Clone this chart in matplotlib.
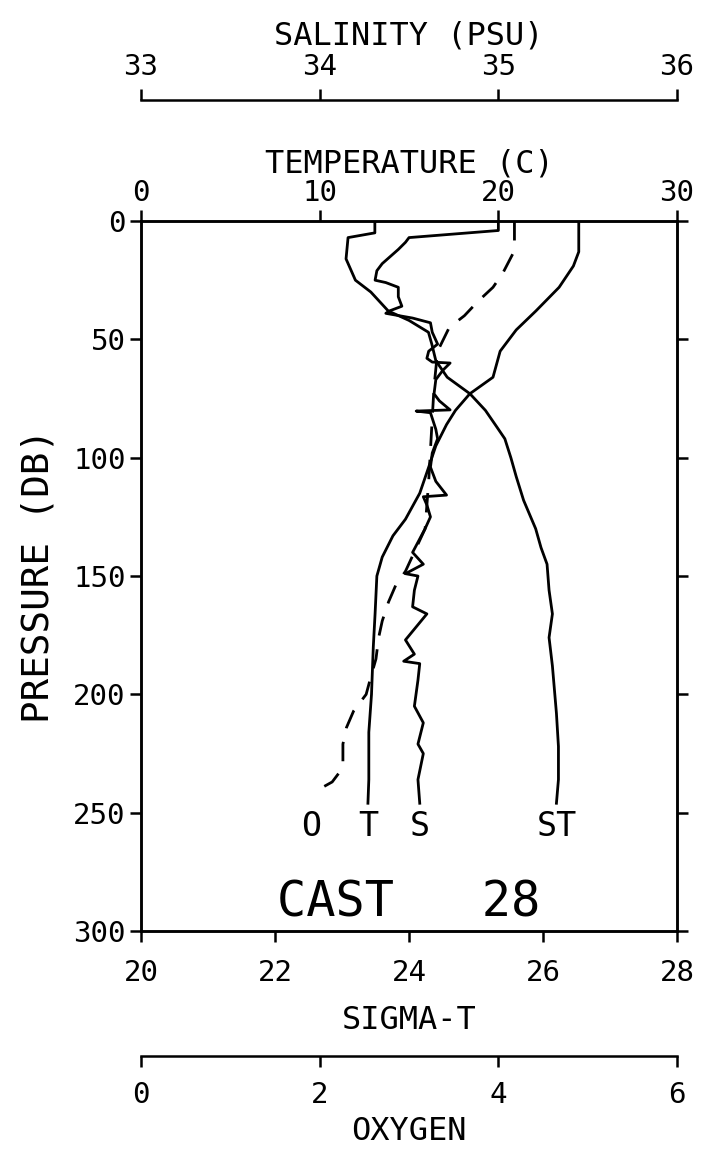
import matplotlib
matplotlib.use("Agg")
import matplotlib.pyplot as plt

# CTD cast 28
# temperature (C)
pres_t = [0, 13, 19, 28, 38, 46, 55, 66, 73, 80, 86, 95, 104, 115, 126, 133,
          142, 150, 166, 180, 200, 216, 236, 246]
temp = [24.5, 24.5, 24.2, 23.4, 22.1, 21.0, 20.1, 19.7, 18.4, 17.6, 17.1, 16.5,
        16.1, 15.6, 14.8, 14.1, 13.5, 13.2, 13.1, 13.0, 12.9, 12.75, 12.75, 12.7]

# salinity (PSU)
pres_s = [0, 4, 7, 9, 12, 18, 21, 25, 26, 28, 32, 36, 38, 39, 41, 43, 47, 52,
          55, 58, 59.6, 60, 63, 67, 73, 76, 79.8, 80.3, 81, 88, 92, 98, 104,
          110, 115.8, 116.5, 120, 125, 130, 140, 145, 149, 150, 156, 163, 166,
          177, 183, 186, 187, 194, 205, 212, 221, 225, 236, 246]
salt = [35.00, 35.00, 34.50, 34.48, 34.44, 34.35, 34.32, 34.31, 34.37, 34.44,
        34.44, 34.46, 34.39, 34.37, 34.52, 34.62, 34.63, 34.66, 34.61, 34.60,
        34.63, 34.73, 34.69, 34.65, 34.64, 34.67, 34.73, 34.54, 34.62, 34.65,
        34.66, 34.63, 34.62, 34.65, 34.71, 34.58, 34.60, 34.62, 34.59, 34.52,
        34.58, 34.48, 34.55, 34.53, 34.52, 34.60, 34.48, 34.53, 34.47, 34.56,
        34.55, 34.53, 34.58, 34.55, 34.58, 34.55, 34.56]

# sigma-t
pres_st = [0, 5, 7, 16, 25, 30, 38, 42, 47, 52, 59, 66, 73, 80, 87, 92, 100,
           108, 118, 130, 138, 145, 156, 166, 176, 188, 208, 222, 236, 246]
sigma = [23.49, 23.49, 23.09, 23.06, 23.20, 23.43, 23.69, 24.00, 24.29, 24.34,
         24.40, 24.57, 24.91, 25.14, 25.31, 25.43, 25.52, 25.60, 25.71, 25.89,
         25.97, 26.06, 26.09, 26.14, 26.09, 26.14, 26.20, 26.23, 26.23, 26.20]

# oxygen
pres_o = [0, 8.5, 14, 22, 28, 34, 40, 45, 55, 70, 90, 110, 130, 148, 154, 161,
          169, 176, 185, 193, 200, 207, 214, 221, 231, 237, 241]
oxy = [4.18, 4.18, 4.16, 4.05, 3.94, 3.77, 3.62, 3.45, 3.32, 3.28, 3.25, 3.22,
       3.18, 2.96, 2.85, 2.77, 2.70, 2.66, 2.63, 2.57, 2.52, 2.38, 2.30, 2.26,
       2.26, 2.14, 1.95]

label_pres = 256   # depth of the curve tags O/T/S/ST
cast_no = 28

plt.rcParams["font.family"] = ["DejaVu Sans Mono"]
plt.rcParams["axes.linewidth"] = 1.8

fig = plt.figure(figsize=(7.04, 11.53), dpi=100)
L, B, W, H = 0.2003, 0.1925, 0.7614, 0.6158

tick_kw = dict(direction="out", length=8, width=1.8, labelsize=21)
lw = 2.0

# main axes: sigma-t on the bottom, pressure on y
ax = fig.add_axes([L, B, W, H])
ax.set_xlim(20, 28)
ax.set_ylim(300, 0)
ax.set_xticks([20, 22, 24, 26, 28])
ax.set_yticks(range(0, 301, 50))
ax.tick_params(axis="x", pad=12, **tick_kw)
ax.tick_params(axis="y", left=True, right=True, labelright=False, pad=3, **tick_kw)
ax.set_xlabel("SIGMA-T", fontsize=23, labelpad=13)
ax.set_ylabel("PRESSURE (DB)", fontsize=27, labelpad=12)

# temperature on the top spine
ax_t = ax.twiny()
ax_t.set_xlim(0, 30)
ax_t.set_xticks([0, 10, 20, 30])
ax_t.tick_params(axis="x", pad=2, **tick_kw)
ax_t.set_xlabel("TEMPERATURE (C)", fontsize=23, labelpad=5)

# hidden axes to plot salinity and oxygen on their own scales
ax_s = ax.twiny()
ax_s.set_xlim(33, 36)
ax_s.set_axis_off()
ax_o = ax.twiny()
ax_o.set_xlim(0, 6)
ax_o.set_axis_off()

ax_t.plot(temp, pres_t, color="black", lw=lw)
ax_s.plot(salt, pres_s, color="black", lw=lw)
ax.plot(sigma, pres_st, color="black", lw=lw)
ax_o.plot(oxy, pres_o, color="black", lw=lw, linestyle=(0, (7, 5)))

tag_kw = dict(ha="center", va="center", fontsize=24)
ax_o.text(oxy[-1] - 0.05, label_pres, "O", **tag_kw)
ax_t.text(temp[-1], label_pres, "T", **tag_kw)
ax_s.text(salt[-1], label_pres, "S", **tag_kw)
ax.text(sigma[-1], label_pres, "ST", **tag_kw)

ax.text(0.5, 0.04, f"CAST   {cast_no}", transform=ax.transAxes,
        ha="center", va="center", fontsize=35)

# separate salinity scale above
ax_sal = fig.add_axes([L, 1 - 100 / 1153, W, 1e-6])
ax_sal.set_xlim(33, 36)
ax_sal.set_xticks([33, 34, 35, 36])
for side in ["left", "right", "bottom"]:
    ax_sal.spines[side].set_visible(False)
ax_sal.set_yticks([])
ax_sal.xaxis.tick_top()
ax_sal.xaxis.set_label_position("top")
ax_sal.tick_params(axis="x", pad=6, **tick_kw)
ax_sal.set_xlabel("SALINITY (PSU)", fontsize=23, labelpad=6)

# separate oxygen scale below
ax_oxy = fig.add_axes([L, 1 - 1056 / 1153, W, 1e-6])
ax_oxy.set_xlim(0, 6)
ax_oxy.set_xticks([0, 2, 4, 6])
for side in ["left", "right", "top"]:
    ax_oxy.spines[side].set_visible(False)
ax_oxy.set_yticks([])
ax_oxy.tick_params(axis="x", pad=10, **tick_kw)
ax_oxy.set_xlabel("OXYGEN", fontsize=23, labelpad=5)

fig.savefig("out.png", dpi=100)
